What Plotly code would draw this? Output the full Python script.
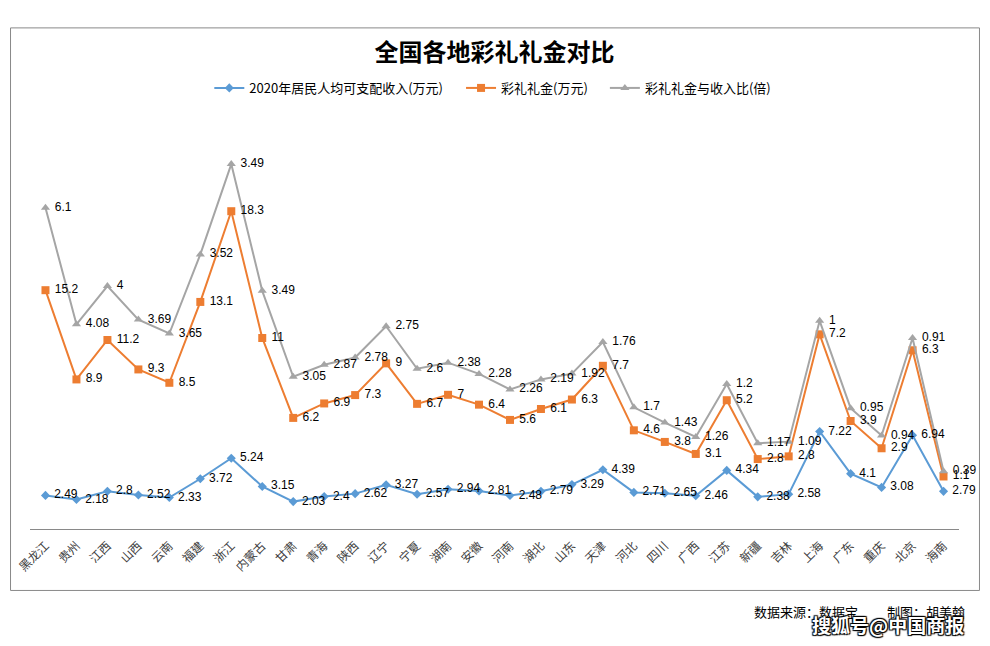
import plotly.graph_objects as go

provinces = ["黑龙江", "贵州", "江西", "山西", "云南", "福建", "浙江", "内蒙古", "甘肃", "青海",
             "陕西", "辽宁", "宁夏", "湖南", "安徽", "河南", "湖北", "山东", "天津", "河北",
             "四川", "广西", "江苏", "新疆", "吉林", "上海", "广东", "重庆", "北京", "海南"]
income = [2.49, 2.18, 2.8, 2.52, 2.33, 3.72, 5.24, 3.15, 2.03, 2.4,
          2.62, 3.27, 2.57, 2.94, 2.81, 2.48, 2.79, 3.29, 4.39, 2.71,
          2.65, 2.46, 4.34, 2.38, 2.58, 7.22, 4.1, 3.08, 6.94, 2.79]
caili = [15.2, 8.9, 11.2, 9.3, 8.5, 13.1, 18.3, 11, 6.2, 6.9,
         7.3, 9, 6.7, 7, 6.4, 5.6, 6.1, 6.3, 7.7, 4.6,
         3.8, 3.1, 5.2, 2.8, 2.8, 7.2, 3.9, 2.9, 6.3, 1.1]
ratio = [6.1, 4.08, 4, 3.69, 3.65, 3.52, 3.49, 3.49, 3.05, 2.87,
         2.78, 2.75, 2.6, 2.38, 2.28, 2.26, 2.19, 1.92, 1.76, 1.7,
         1.43, 1.26, 1.2, 1.17, 1.09, 1, 0.95, 0.94, 0.91, 0.39]
series_names = ["2020年居民人均可支配收入(万元)", "彩礼礼金(万元)", "彩礼礼金与收入比(倍)"]
title_text = "全国各地彩礼礼金对比"
source_text = "数据来源：数据宝" + "&nbsp;" * 10 + "制图：胡美翰"
watermark_text = "搜狐号@中国商报"

W, H = 990, 646
L, R, T, B = 29.5, 30.5, 124, 117.4
PW, PH = W - L - R, H - T - B


def px(x):
    return (x - L) / PW


def py(y):
    return (H - B - y) / PH


colors = ["#5B9BD5", "#ED7D31", "#A5A5A5"]
symbols = ["diamond", "square", "triangle-up"]
msizes = [7, 8, 8]
legend_ids = ["legend", "legend2", "legend3"]
all_vals = [income, caili, ratio]

fig = go.Figure()
# stacked lines with markers (Excel "stacked line" chart)
for name, vals, c, s, ms, lg in zip(series_names, all_vals, colors, symbols, msizes, legend_ids):
    fig.add_trace(go.Scatter(
        x=provinces, y=vals, name=name, stackgroup="lines", fill="none",
        mode="lines+markers",
        line=dict(color=c, width=2),
        marker=dict(symbol=s, size=ms, color=c),
        legend=lg,
        cliponaxis=False,
        hoverinfo="skip",
    ))
# data labels drawn on top of all lines
for name, vals, s, ms in zip(series_names, all_vals, symbols, msizes):
    fig.add_trace(go.Scatter(
        x=provinces, y=vals, name=name, stackgroup="labels", fill="none",
        mode="markers+text",
        marker=dict(symbol=s, size=ms, color="rgba(0,0,0,0)"),
        text=[" " + f"{v:g}" for v in vals],
        textposition="middle right",
        textfont=dict(family="Liberation Sans, Arial", size=12, color="#000000"),
        showlegend=False,
        cliponaxis=False,
        hoverinfo="skip",
    ))

legend_common = dict(orientation="h", yanchor="middle", xanchor="left", bgcolor="rgba(0,0,0,0)",
                     font=dict(family="Noto Sans CJK SC", size=13, color="#000000"))
fig.update_layout(
    width=W, height=H,
    margin=dict(l=L, r=R, t=T, b=B, pad=0),
    paper_bgcolor="white", plot_bgcolor="white",
    showlegend=True,
    legend=dict(x=px(209), y=py(88), **legend_common),
    legend2=dict(x=px(461), y=py(88), **legend_common),
    legend3=dict(x=px(605), y=py(88), **legend_common),
    xaxis=dict(type="category", range=[-0.5, len(provinces) - 0.5], showgrid=False,
               showline=True, linecolor="#898989", linewidth=1, ticks="",
               tickangle=-45, ticklabelstandoff=4,
               tickfont=dict(family="Noto Sans CJK SC", size=12, color="#404040"),
               zeroline=False),
    yaxis=dict(range=[0, 30], visible=False, showgrid=False, zeroline=False),
    title=dict(text=title_text, x=0.5, xref="paper", xanchor="center", y=1 - 53 / H, yanchor="middle",
               font=dict(family="Noto Sans CJK SC", size=24, color="#000000", weight="bold")),
    shapes=[dict(type="rect", xref="paper", yref="paper", x0=px(10), x1=px(980), y0=py(590), y1=py(28),
                 line=dict(color="#898989", width=1), fillcolor="rgba(0,0,0,0)", layer="below")],
    annotations=[
        dict(text=source_text, xref="paper", yref="paper", x=px(968), y=py(611), xanchor="right",
             yanchor="middle", showarrow=False,
             font=dict(family="Noto Sans CJK SC", size=13, color="#000000")),
        dict(text=watermark_text, xref="paper", yref="paper", x=px(967), y=py(624), xanchor="right",
             yanchor="middle", showarrow=False,
             font=dict(family="Noto Sans CJK SC", size=19, color="#ffffff", weight="bold",
                       shadow="1px 1px 1px #000, -1px -1px 1px #000, 1px -1px 1px #000, -1px 1px 1px #000")),
    ],
)

fig.write_html("out.html", config={"displayModeBar": False},
               post_script="document.body.style.margin='0';")
